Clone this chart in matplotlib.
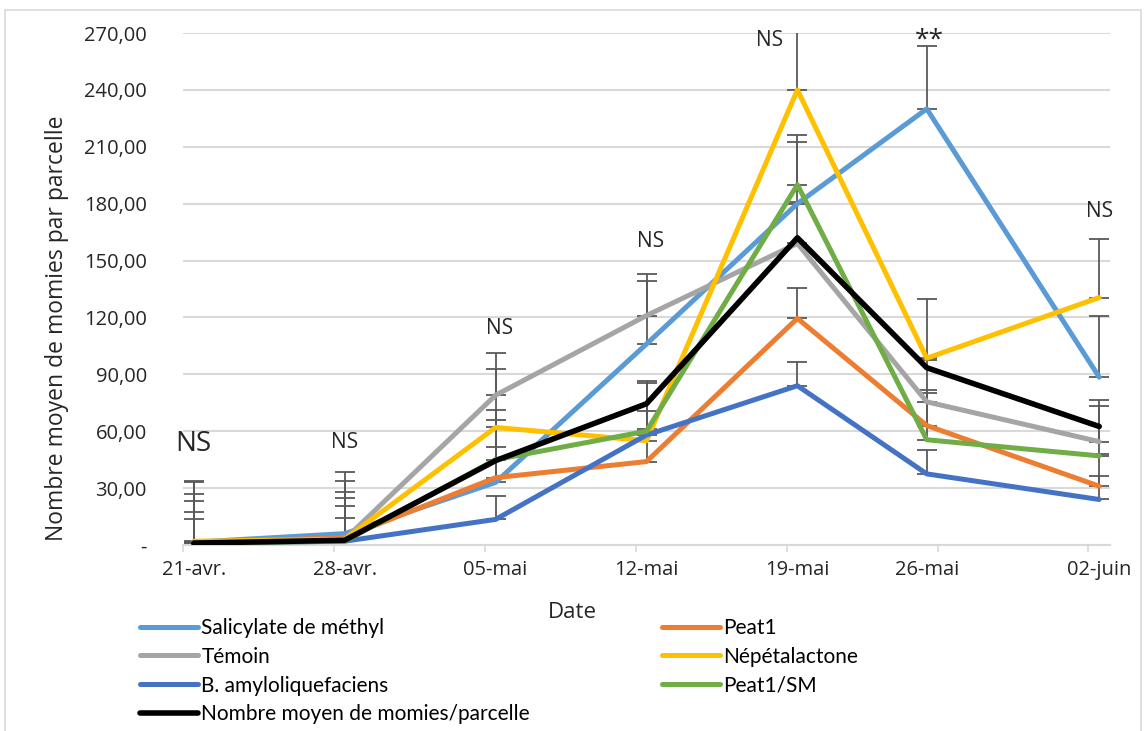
import numpy as np
import matplotlib
matplotlib.use("Agg")
import matplotlib.pyplot as plt
from matplotlib.patches import Rectangle

# Sampling days (offset from 21 April) and their axis labels
jours = [0, 7, 14, 21, 28, 34, 42]
date_labels = ["21-avr.", "28-avr.", "05-mai", "12-mai", "19-mai", "26-mai", "02-juin"]

# Mean number of mummies per plot for each treatment
salicylate = [1.5, 6.0, 33.0, 106.0, 180.0, 230.0, 88.5]
peat1 = [1.0, 4.0, 35.5, 44.0, 119.5, 63.0, 31.0]
temoin = [1.0, 3.0, 79.0, 121.0, 159.0, 75.5, 54.5]
nepetalactone = [2.0, 3.0, 62.0, 55.0, 240.0, 98.5, 130.5]
b_amylo = [1.0, 2.0, 13.5, 58.0, 84.0, 37.5, 24.0]
peat1_sm = [1.0, 2.0, 45.0, 60.0, 190.0, 55.5, 47.0]
moyenne = [1.0, 2.5, 44.5, 74.5, 162.0, 93.5, 62.5]

# Upper error bars (standard error) per treatment
err_salicylate = [32.5, 32.5, 33.0, 33.0, 32.5, 33.0, 32.5]
err_peat1 = [16.5, 16.5, 16.0, 17.0, 16.0, 17.0, 17.0]
err_temoin = [22.0, 22.0, 22.0, 22.0, 22.0, 22.0, 22.0]
err_nepetalactone = [31.0, 31.0, 31.0, 31.5, 31.0, 31.0, 31.0]
err_b_amylo = [12.5, 12.5, 12.5, 12.5, 12.5, 12.5, 12.5]
err_peat1_sm = [26.0, 26.0, 26.0, 25.5, 26.0, 26.0, 26.5]

# Significance labels above each date
sig_labels = ["NS", "NS", "NS", "NS", "NS", "**", "NS"]
sig_y = [53, 54, 114, 160, 266, 266, 176]
sig_dx = [0.0, 0.0, 0.2, 0.2, -1.3, 0.1, 0.0]

series = [
    ("Salicylate de méthyl", salicylate, err_salicylate, "#5B9BD5"),
    ("Peat1", peat1, err_peat1, "#ED7D31"),
    ("Témoin", temoin, err_temoin, "#A5A5A5"),
    ("Népétalactone", nepetalactone, err_nepetalactone, "#FFC000"),
    ("B. amyloliquefaciens", b_amylo, err_b_amylo, "#4472C4"),
    ("Peat1/SM", peat1_sm, err_peat1_sm, "#70AD47"),
]

W, H = 1146, 731
fig = plt.figure(figsize=(W / 100, H / 100), dpi=100)
fig.patch.set_facecolor("white")

# chart-area frame
fig.add_artist(Rectangle((5 / W, -0.05), (1141 - 5) / W, 1.05 - 10 / H,
                         transform=fig.transFigure, fill=False,
                         edgecolor="#D9D9D9", linewidth=1.2))

ax = fig.add_axes([183 / W, 1 - 545 / H, (1110 - 183) / W, (545 - 33) / H])

x = np.array(jours, dtype=float) + 0.5
handles = {}
for name, vals, errs, col in series:
    ax.errorbar(x, vals, yerr=[np.zeros(len(errs)), errs], fmt="none",
                ecolor="#595959", elinewidth=1.3, capsize=7, capthick=1.3,
                zorder=2)
for i, (name, vals, errs, col) in enumerate(series):
    ln, = ax.plot(x, vals, color=col, lw=3.6, solid_joinstyle="round",
                  solid_capstyle="round", zorder=3 + i, label=name)
    handles[name] = ln
ln_avg, = ax.plot(x, moyenne, color="black", lw=4.0, solid_joinstyle="round",
                  solid_capstyle="round", zorder=10,
                  label="Nombre moyen de momies/parcelle")

ax.set_xlim(0, 43)
ax.set_ylim(0, 270)
yt = np.arange(0, 271, 30)
ax.set_yticks(yt)
ax.set_yticklabels(["-" if v == 0 else f"{v:.2f}".replace(".", ",") for v in yt])
ax.grid(axis="y", color="#D9D9D9", lw=1.5, zorder=0)
ax.set_axisbelow(True)

ax.set_xticks(x)
ax.set_xticklabels(date_labels)
ax.set_xticks(np.arange(0, 43, 7), minor=True)
ax.tick_params(axis="x", which="major", length=0, pad=11, labelsize=14.5,
               labelcolor="#262626")
ax.tick_params(axis="x", which="minor", length=5, color="#D9D9D9", width=1.2)
ax.tick_params(axis="y", length=0, pad=26, labelsize=14.5, labelcolor="#262626")
for lab in ax.get_xticklabels() + ax.get_yticklabels():
    lab.set_fontfamily("Open Sans")

for side in ["left", "right", "top"]:
    ax.spines[side].set_visible(False)
ax.spines["bottom"].set_color("#D9D9D9")
ax.spines["bottom"].set_linewidth(1.5)

for j, (lab, yv, dx) in enumerate(zip(sig_labels, sig_y, sig_dx)):
    if j == 0:
        size = 20
    elif lab == "**":
        size = 19
    else:
        size = 15
    ax.text(x[j] + dx, yv, lab, ha="center", va="center", fontsize=size,
            family="Open Sans", color="#262626", clip_on=False, zorder=12)

fig.text(57 / W, 1 - 328 / H, "Nombre moyen de momies par parcelle",
         rotation=90, ha="center", va="center", fontsize=16.5,
         family="Open Sans", color="#262626")
fig.text(572 / W, 1 - 612 / H, "Date", ha="center", va="center",
         fontsize=16, family="Open Sans", color="#262626")

leg_kw = dict(frameon=False, handlelength=2.8, handletextpad=0.15,
              labelspacing=0.42, borderpad=0, borderaxespad=0,
              prop={"family": "Lato", "size": 15})
left_names = ["Salicylate de méthyl", "Témoin", "B. amyloliquefaciens"]
right_names = ["Peat1", "Népétalactone", "Peat1/SM"]
leg1 = fig.legend([handles[n] for n in left_names] + [ln_avg],
                  left_names + ["Nombre moyen de momies/parcelle"],
                  loc="upper left", bbox_to_anchor=(140 / W, 1 - 618 / H),
                  **leg_kw)
leg2 = fig.legend([handles[n] for n in right_names], right_names,
                  loc="upper left", bbox_to_anchor=(662 / W, 1 - 618 / H),
                  **leg_kw)
for lg in (leg1, leg2):
    for t in lg.get_texts():
        t.set_color("black")

fig.savefig("out.png", dpi=100)
